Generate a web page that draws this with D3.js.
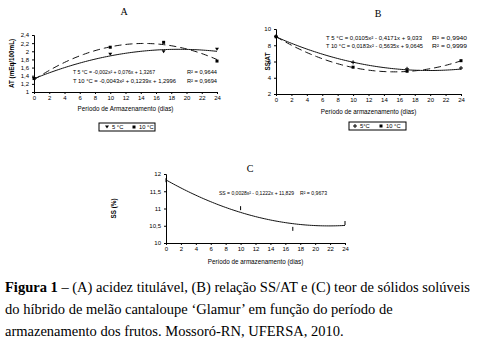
<!DOCTYPE html>
<html>
<head>
<meta charset="utf-8">
<script src="https://cdn.jsdelivr.net/npm/d3@7"></script>
<style>
  html, body { margin: 0; padding: 0; background: #fff; }
  svg { display: block; }
  .tick text { font-family: "Liberation Sans", Arial, sans-serif; }
</style>
</head>
<body>
<svg id="fig" width="497" height="343"></svg>
<script>
// Storage days sampled
const days = [0, 10, 17, 24];
const xTicks = [0, 2, 4, 6, 8, 10, 12, 14, 16, 18, 20, 22, 24];

// (A) titratable acidity, AT (mEq/100mL)
const atT5 = [1.33, 1.93, 1.99, 2.05];
const atT10 = [1.33, 2.10, 2.22, 1.76];
const atTicks = [1, 1.2, 1.4, 1.6, 1.8, 2, 2.2, 2.4];
const atFit5 = [1.3267, 0.076, -0.002];      // c0, c1, c2
const atFit10 = [1.2996, 0.1239, -0.0043];
const atEq5 = "T 5 °C = -0,002x² + 0,076x + 1,3267";
const atEq10 = "T 10 °C = -0,0043x² + 0,1239x + 1,2996";
const atR2 = ["R² = 0,9644", "R² = 0,9694"];

// (B) SS/AT ratio
const ratT5 = [9.10, 5.90, 5.10, 5.20];
const ratT10 = [9.05, 5.30, 4.80, 6.10];
const ratTicks = [2, 4, 6, 8, 10];
const ratFit5 = [9.033, -0.4171, 0.0105];
const ratFit10 = [9.0645, -0.5635, 0.0183];
const ratEq5 = "T 5 °C = 0,0105x² - 0,4171x + 9,033";
const ratEq10 = "T 10 °C = 0,0183x² - 0,5635x + 9,0645";
const ratR2 = ["R² = 0,9940", "R² = 0,9999"];

// (C) soluble solids, SS (%)
const ssVals = [11.82, 11.01, 10.41, 10.58];
const ssTicks = [10, 10.5, 11, 11.5, 12];
const ssFit = [11.829, -0.1222, 0.0028];
const ssEq = "SS = 0,0028x² - 0,1222x + 11,829";
const ssR2 = "R² = 0,9673";

const caption = [
  [["Figura 1", true], [" – (A) acidez titulável, (B) relação SS/AT e (C) teor de sólidos solúveis", false]],
  [["do híbrido de melão cantaloupe ‘Glamur’ em função do período de", false]],
  [["armazenamento dos frutos. Mossoró-RN, UFERSA, 2010.", false]]
];

const sans = '"Liberation Sans", Arial, sans-serif';
const serif = '"Liberation Serif", "Times New Roman", serif';
const loc = d3.formatLocale({decimal: ",", thousands: ".", grouping: [3], currency: ["", ""]});
const fmt = loc.format("~g");

const svg = d3.select("#fig");

const poly = (c, x) => c[0] + c[1] * x + c[2] * x * x;
const fitPts = d3.range(0, 24.001, 0.25);

function panel(cfg) {
  const g = svg.append("g");
  const x = d3.scaleLinear().domain([0, 24]).range(cfg.xr);
  const y = d3.scaleLinear().domain(cfg.yd).range(cfg.yr);

  const xa = g.append("g").attr("transform", `translate(0,${cfg.yr[0]})`)
    .call(d3.axisBottom(x).tickValues(xTicks).tickFormat(d3.format("d")).tickSize(2).tickPadding(2));
  const ya = g.append("g").attr("transform", `translate(${cfg.xr[0]},0)`)
    .call(d3.axisLeft(y).tickValues(cfg.yTicks).tickFormat(fmt).tickSize(2).tickPadding(3));
  [xa, ya].forEach(a => {
    a.select(".domain").attr("stroke", "#000").attr("stroke-width", 1);
    a.selectAll(".tick line").attr("stroke", "#000");
    a.selectAll(".tick text").attr("font-size", 6).attr("fill", "#000");
  });

  // panel letter
  g.append("text").attr("x", cfg.title[1]).attr("y", cfg.title[2])
    .attr("text-anchor", "middle").attr("font-family", serif).attr("font-size", 10)
    .text(cfg.title[0]);

  // axis titles
  g.append("text").attr("x", (cfg.xr[0] + cfg.xr[1]) / 2 + cfg.xtDx).attr("y", cfg.xtY)
    .attr("text-anchor", "middle").attr("font-family", sans).attr("font-size", 6.3)
    .text(cfg.xTitle);
  g.append("text")
    .attr("transform", `translate(${cfg.ytX},${(cfg.yr[0] + cfg.yr[1]) / 2}) rotate(-90)`)
    .attr("text-anchor", "middle").attr("font-family", sans).attr("font-size", 6.3)
    .attr("font-weight", "bold").text(cfg.yTitle);

  cfg.series.forEach(s => {
    g.append("path")
      .datum(fitPts.map(t => ({t, v: poly(s.fit, t)})))
      .attr("d", d3.line().x(d => x(d.t)).y(d => y(d.v)))
      .attr("fill", "none").attr("stroke", "#111").attr("stroke-width", 1)
      .attr("stroke-dasharray", s.dash || null);
    const pts = g.append("g");
    days.forEach((d, i) => drawMarker(pts, s.marker, x(d), y(s.vals[i])));
  });

  // trendline equations, each fitted to its printed width
  cfg.eqs.forEach(e => {
    g.append("text").attr("x", e[0]).attr("y", e[1]).attr("font-family", sans)
      .attr("font-size", 5.6).attr("textLength", e[3]).attr("lengthAdjust", "spacingAndGlyphs")
      .text(e[2]);
  });
  return {x, y};
}

function drawMarker(g, type, cx, cy) {
  if (type === "tri") {
    g.append("path").attr("d", `M${cx - 2},${cy - 1.5}L${cx + 2},${cy - 1.5}L${cx},${cy + 1.5}Z`).attr("fill", "#000");
  } else if (type === "sq") {
    g.append("rect").attr("x", cx - 1.5).attr("y", cy - 1.5).attr("width", 3).attr("height", 3).attr("fill", "#000");
  } else if (type === "plus") {
    g.append("path").attr("d", `M${cx - 2},${cy}H${cx + 2}M${cx},${cy - 2}V${cy + 2}`).attr("stroke", "#000").attr("stroke-width", 1);
  } else if (type === "tick") {
    g.append("rect").attr("x", cx - 0.5).attr("y", cy - 2).attr("width", 1).attr("height", 4).attr("fill", "#000");
  }
}

function legend(x0, y0, w, items) {
  const g = svg.append("g");
  g.append("rect").attr("x", x0).attr("y", y0).attr("width", w).attr("height", 8)
    .attr("fill", "#fff").attr("stroke", "#000").attr("stroke-width", 1);
  items.forEach(it => {
    drawMarker(g, it.marker, x0 + it.dx, y0 + 4);
    g.append("text").attr("x", x0 + it.dx + 5).attr("y", y0 + 6.2)
      .attr("font-family", sans).attr("font-size", 5.8).text(it.label);
  });
}

// Panel A
panel({
  xr: [34, 217], yd: [1, 2.4], yr: [92, 35], yTicks: atTicks,
  title: ["A", 124, 15], xTitle: "Período de Armazenamento (dias)", xtY: 111, xtDx: 0,
  yTitle: "AT (mEq/100mL)", ytX: 14,
  series: [
    {vals: atT5, fit: atFit5, marker: "tri"},
    {vals: atT10, fit: atFit10, marker: "sq", dash: "7,4"}
  ],
  eqs: [[73, 74, atEq5, 82], [73, 83, atEq10, 103], [187, 74, atR2[0], 30], [187, 83, atR2[1], 30]]
});
legend(99, 123, 56, [{marker: "tri", dx: 8, label: "5 °C"}, {marker: "sq", dx: 35, label: "10 °C"}]);

// Panel B
panel({
  xr: [276, 461], yd: [2, 10], yr: [94, 29], yTicks: ratTicks,
  title: ["B", 378, 17], xTitle: "Período de armazenamento (dias)", xtY: 114, xtDx: 0,
  yTitle: "SS/AT", ytX: 270,
  series: [
    {vals: ratT5, fit: ratFit5, marker: "plus"},
    {vals: ratT10, fit: ratFit10, marker: "sq", dash: "7,4"}
  ],
  eqs: [[326, 40, ratEq5, 96], [326, 48, ratEq10, 97], [432, 40, ratR2[0], 35], [432, 48, ratR2[1], 35]]
});
legend(349, 122, 57, [{marker: "plus", dx: 6, label: "5°C"}, {marker: "sq", dx: 32, label: "10 °C"}]);

// Panel C
panel({
  xr: [166, 345], yd: [10, 12], yr: [243, 174], yTicks: ssTicks,
  title: ["C", 250, 172], xTitle: "Período de armazenamento (dias)", xtY: 264, xtDx: 0,
  yTitle: "SS (%)", ytX: 116,
  series: [{vals: ssVals, fit: ssFit, marker: "tick"}],
  eqs: [[219, 195, ssEq, 75], [300, 195, ssR2, 27]]
});

// Caption
caption.forEach((line, i) => {
  const t = svg.append("text").attr("x", 5).attr("y", 292 + i * 22)
    .attr("font-family", serif).attr("font-size", 14.5).attr("fill", "#000");
  line.forEach(([s, b]) => t.append("tspan").attr("font-weight", b ? "bold" : null).text(s));
});
</script>
</body>
</html>
